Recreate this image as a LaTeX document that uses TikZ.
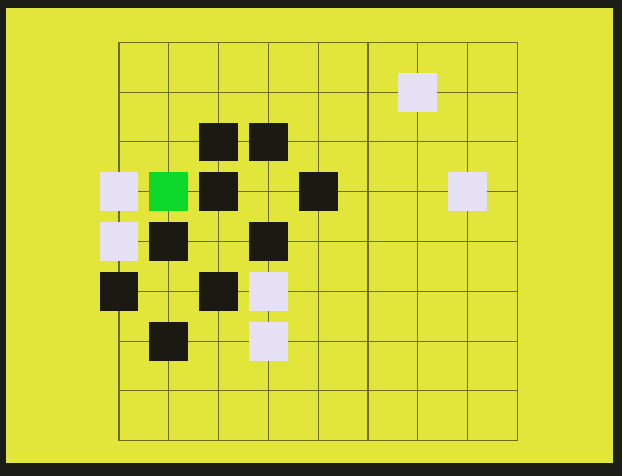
\documentclass[tikz,border=0pt]{standalone}
\definecolor{screen}{HTML}{E2E53A}
\definecolor{bezel}{HTML}{1C1C16}
\definecolor{gridcol}{HTML}{6E6E18}
\definecolor{stoneD}{HTML}{1B1A12}
\definecolor{stoneL}{HTML}{E6E1F4}
\definecolor{cursor}{HTML}{0CD92A}

\begin{document}
\begin{tikzpicture}[x=0.8cm,y=-0.8cm,
    darkcell/.style={fill=stoneD},
    lightcell/.style={fill=stoneL},
    curcell/.style={fill=cursor}]
  \fill[bezel] (-2.39,-0.85) rectangle (10.10,8.70);
  \fill[screen] (-2.27,-0.68) rectangle (9.92,8.45);
  \foreach \i in {0,...,8} {
    \draw[gridcol,line width=0.5pt] (\i,0) -- (\i,8);
    \draw[gridcol,line width=0.5pt] (0,\i) -- (8,\i);
  }
  % stones on the intersections
  \foreach \c/\r in {2/2,3/2,2/3,4/3,1/4,3/4,0/5,2/5,1/6}
    \fill[darkcell] (\c-0.39,\r-0.39) rectangle ++(0.78,0.78);
  \foreach \c/\r in {6/1,0/3,7/3,0/4,3/5,3/6}
    \fill[lightcell] (\c-0.39,\r-0.39) rectangle ++(0.78,0.78);
  \fill[curcell] (1-0.39,3-0.39) rectangle ++(0.78,0.78);
\end{tikzpicture}
\end{document}
